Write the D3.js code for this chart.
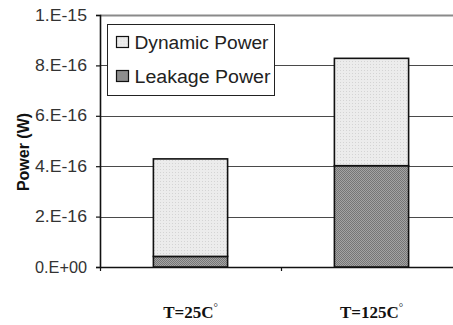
<!DOCTYPE html>
<html>
<head>
<meta charset="utf-8">
<script src="https://cdn.jsdelivr.net/npm/d3@7"></script>
<style>
  html, body { margin: 0; padding: 0; background: #fff; }
  svg { display: block; }
</style>
</head>
<body>
<svg id="chart" width="453" height="325"></svg>
<script>
// Power breakdown at two temperatures (watts)
const categories = ["T=25C", "T=125C"];
const leakagePower = [4.2e-17, 4.02e-16];
const dynamicPower = [3.87e-16, 4.26e-16];
const seriesNames = ["Dynamic Power", "Leakage Power"];
const yTicks = [0, 2e-16, 4e-16, 6e-16, 8e-16, 1e-15];

const svg = d3.select("#chart");
const margin = { left: 100, top: 15, right: -9, bottom: 58 };
const W = 453, H = 325;
const x0 = margin.left, x1 = W - margin.right;
const y0 = H - margin.bottom, y1 = margin.top;

const x = d3.scaleBand().domain(categories).range([x0, x1]).paddingInner(0.59).paddingOuter(0.295);
const y = d3.scaleLinear().domain([0, 1e-15]).range([y0, y1]);

// Fill textures for the two stacked series
const defs = svg.append("defs");
const pDyn = defs.append("pattern").attr("id", "dynFill")
  .attr("patternUnits", "userSpaceOnUse").attr("width", 3).attr("height", 3);
pDyn.append("rect").attr("width", 3).attr("height", 3).attr("fill", "#ececec");
pDyn.append("rect").attr("x", 1).attr("y", 1).attr("width", 1).attr("height", 1).attr("fill", "#d4d4d4");

const pLeak = defs.append("pattern").attr("id", "leakFill")
  .attr("patternUnits", "userSpaceOnUse").attr("width", 2).attr("height", 2);
pLeak.append("rect").attr("width", 2).attr("height", 2).attr("fill", "#a4a4a4");
pLeak.append("rect").attr("width", 1).attr("height", 1).attr("fill", "#767676");
pLeak.append("rect").attr("x", 1).attr("y", 1).attr("width", 1).attr("height", 1).attr("fill", "#767676");

const fmt = v => {
  if (v === 0) return "0.E+00";
  const e = Math.floor(Math.log10(v) + 1e-9);
  const m = Math.round(v / Math.pow(10, e));
  return m + ".E-" + Math.abs(e);
};

// Horizontal gridlines
svg.append("g").selectAll("line").data(yTicks.filter(t => t > 0)).join("line")
  .attr("x1", x0).attr("x2", W)
  .attr("y1", d => Math.round(y(d)) + 0.5).attr("y2", d => Math.round(y(d)) + 0.5)
  .attr("stroke", (d, i, n) => i === n.length - 1 ? "#8a8a8a" : "#4a4a4a")
  .attr("stroke-width", (d, i, n) => i === n.length - 1 ? 2 : 1.2);

// Y axis
const yAxis = d3.axisLeft(y).tickValues(yTicks).tickFormat(fmt).tickSize(4).tickPadding(9);
const gy = svg.append("g").attr("transform", `translate(${x0},0)`).call(yAxis);
gy.select(".domain").attr("stroke", "#111").attr("stroke-width", 1.6);
gy.selectAll(".tick line").attr("stroke", "#111").attr("stroke-width", 1.2);
gy.selectAll(".tick text")
  .attr("font-family", "'Liberation Sans', Arial, sans-serif")
  .attr("font-size", 16).attr("fill", "#333")
  .attr("textLength", 52).attr("lengthAdjust", "spacingAndGlyphs");

// X baseline with category boundary ticks
svg.append("line").attr("x1", x0).attr("x2", W).attr("y1", y0 + 0.5).attr("y2", y0 + 0.5)
  .attr("stroke", "#111").attr("stroke-width", 1.6);
const bounds = [x0, (x0 + x1) / 2];
svg.append("g").selectAll("line").data(bounds).join("line")
  .attr("x1", d => Math.round(d) + 0.5).attr("x2", d => Math.round(d) + 0.5)
  .attr("y1", y0).attr("y2", y0 + 4)
  .attr("stroke", "#111").attr("stroke-width", 1.2);

// Stacked bars
const rows = categories.map((c, i) => ({ cat: c, Leakage: leakagePower[i], Dynamic: dynamicPower[i] }));
const stack = d3.stack().keys(["Leakage", "Dynamic"])(rows);
const fills = { Leakage: "url(#leakFill)", Dynamic: "url(#dynFill)" };
svg.append("g").selectAll("g").data(stack).join("g")
  .attr("fill", d => fills[d.key])
  .selectAll("rect").data(d => d).join("rect")
  .attr("x", d => x(d.data.cat))
  .attr("width", x.bandwidth())
  .attr("y", d => y(d[1]))
  .attr("height", d => y(d[0]) - y(d[1]))
  .attr("stroke", "#111").attr("stroke-width", 1.6);

// Category labels
const lbl = svg.append("g").selectAll("text").data(categories).join("text")
  .attr("x", d => x(d) + x.bandwidth() / 2)
  .attr("y", 318)
  .attr("text-anchor", "middle")
  .attr("font-family", "'Liberation Serif', 'Times New Roman', serif")
  .attr("font-weight", "bold").attr("font-size", 17).attr("fill", "#111");
lbl.append("tspan").text(d => d);
lbl.append("tspan").attr("dy", -7).attr("font-size", 11).attr("font-weight", "normal").text("°");

// Y axis title
svg.append("text")
  .attr("transform", "translate(29,152) rotate(-90)")
  .attr("text-anchor", "middle")
  .attr("font-family", "'Liberation Sans', Arial, sans-serif")
  .attr("font-weight", "bold").attr("font-size", 16).attr("fill", "#111")
  .text("Power (W)");

// Legend
const lg = svg.append("g");
lg.append("rect").attr("x", 107.5).attr("y", 24.5).attr("width", 167).attr("height", 71)
  .attr("fill", "#fff").attr("stroke", "#222").attr("stroke-width", 1);
const legFills = ["url(#dynFill)", "url(#leakFill)"];
const li = lg.selectAll("g").data(seriesNames).join("g")
  .attr("transform", (d, i) => `translate(116.5,${36.5 + i * 34})`);
li.append("rect").attr("width", 12).attr("height", 11)
  .attr("fill", (d, i) => legFills[i]).attr("stroke", "#111").attr("stroke-width", 1.2);
li.append("text").attr("x", 18).attr("y", 12)
  .attr("font-family", "'Liberation Sans', Arial, sans-serif")
  .attr("font-size", 18).attr("fill", "#222")
  .attr("textLength", (d, i) => i === 0 ? 134 : 136).attr("lengthAdjust", "spacingAndGlyphs")
  .text(d => d);
</script>
</body>
</html>
